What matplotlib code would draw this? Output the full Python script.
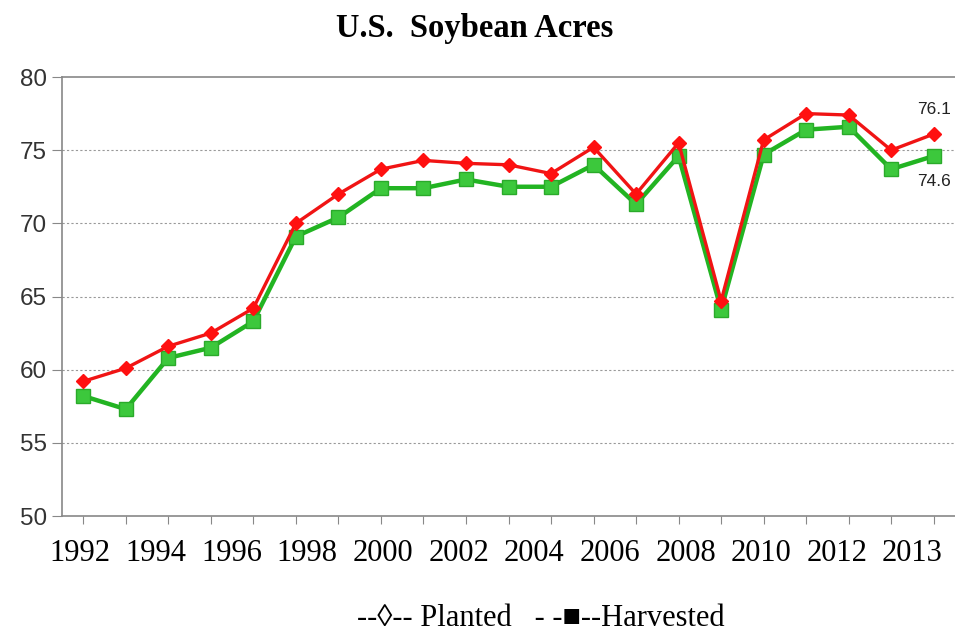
import numpy as np
import matplotlib
matplotlib.use("Agg")
import matplotlib.pyplot as plt

# million acres; last point is the 2013 projection
planted = [59.2, 60.1, 61.6, 62.5, 64.2, 70.0, 72.0, 73.7, 74.3, 74.1, 74.0,
           73.4, 75.2, 72.0, 75.5, 64.7, 75.7, 77.5, 77.4, 75.0, 76.1]
harvested = [58.2, 57.3, 60.8, 61.5, 63.3, 69.1, 70.4, 72.4, 72.4, 73.0, 72.5,
             72.5, 74.0, 71.3, 74.6, 64.1, 74.7, 76.4, 76.6, 73.7, 74.6]
year_labels = ['1992', '1994', '1996', '1998', '2000', '2002', '2004', '2006',
               '2008', '2010', '2012', '2013']
yticks = [50, 55, 60, 65, 70, 75, 80]

x = np.arange(len(planted))

fig = plt.figure(figsize=(9.55, 6.34), dpi=100)
ax = fig.add_axes([62 / 955, 1 - 516 / 634, 893 / 955, 439 / 634])

ax.plot(x, planted, color='#f01414', lw=2.4, marker='D', ms=7,
        mfc='#ff1010', mec='#ff1010', zorder=3)
ax.plot(x, harvested, color='#22b422', lw=3.2, marker='s', ms=10,
        mfc='#3cc83c', mec='#2aaa2a', zorder=2)

ax.set_xlim(-0.5, len(planted) - 0.5)
ax.set_ylim(50, 80)
ax.set_yticks(yticks)
ax.set_xticks(x)
ax.set_xticklabels([])
for v in yticks[1:-1]:
    ax.axhline(v, color='#999999', lw=0.8, ls=(0, (2, 2)), zorder=1)

for s in ['left', 'bottom', 'top']:
    ax.spines[s].set_color('#888888')
    ax.spines[s].set_linewidth(1.2)
ax.spines['right'].set_visible(False)
ax.tick_params(axis='y', direction='out', length=7, color='#888888',
               labelsize=17.5, labelcolor='#333333', pad=4)
ax.tick_params(axis='x', direction='out', length=6, color='#888888')
for lab in ax.get_yticklabels():
    lab.set_family('Liberation Sans')

# year labels sit evenly across the axis, not on the ticks
for pos, lab in zip(np.linspace(-0.07, 19.5, len(year_labels)), year_labels):
    ax.text(pos, 48.4, lab, ha='center', va='top', fontsize=22,
            family='Liberation Serif', clip_on=False)

ax.text(x[-1], planted[-1] + 1.2, f'{planted[-1]:.1f}', ha='center',
        va='bottom', fontsize=12.5, color='#222222', family='Liberation Sans')
ax.text(x[-1], harvested[-1] - 1.2, f'{harvested[-1]:.1f}', ha='center',
        va='top', fontsize=12.5, color='#222222', family='Liberation Sans')

fig.text(475 / 955, 1 - 28 / 634, 'U.S.  Soybean Acres', ha='center',
         va='center', fontsize=23.5, fontweight='bold', family='Liberation Serif')
fig.text(541 / 955, 1 - 618 / 634, '--\u25CA-- Planted   - -\u25A0--Harvested',
         ha='center', va='center', fontsize=22,
         family=['Liberation Serif', 'DejaVu Serif'])

fig.savefig('out.png', dpi=100)
